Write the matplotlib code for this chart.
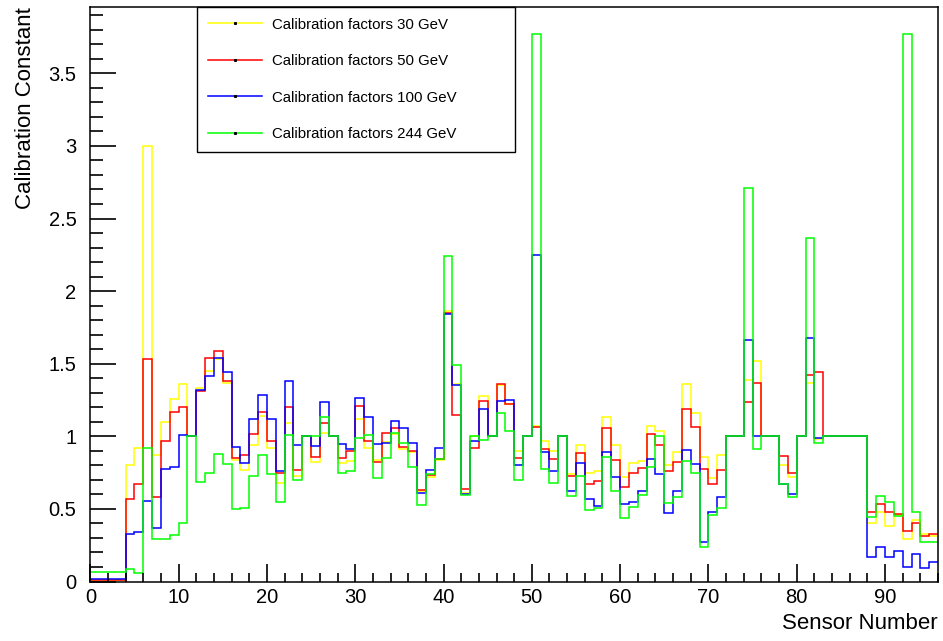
import matplotlib
matplotlib.use('Agg')
import matplotlib.pyplot as plt
from matplotlib.lines import Line2D
from matplotlib.ticker import MultipleLocator
import numpy as np

plt.rcParams['font.family'] = ['Liberation Sans', 'DejaVu Sans']

# bin edges: sensors 0..95, one bin each
edges = np.arange(0, 97)

labels = ['Calibration factors 30 GeV', 'Calibration factors 50 GeV',
          'Calibration factors 100 GeV', 'Calibration factors 244 GeV']
colors = ['#ffff00', '#ff0000', '#0000ff', '#00ff00']

cal_30 = [0.01, 0.01, 0.01, 0.01, 0.80, 0.92, 3.00, 0.87, 1.10, 1.26,
          1.36, 1.00, 1.33, 1.45, 1.53, 1.37, 0.84, 0.77, 0.94, 1.14,
          0.92, 0.68, 1.09, 0.73, 1.00, 0.82, 1.02, 1.00, 0.815, 0.83,
          1.12, 0.92, 0.84, 0.96, 1.015, 0.91, 0.895, 0.62, 0.72, 0.84,
          1.865, 1.36, 0.61, 1.00, 1.28, 1.00, 1.355, 1.22, 0.90, 1.00,
          1.07, 0.965, 0.90, 1.00, 0.74, 0.94, 0.75, 0.76, 1.13, 0.94,
          0.72, 0.815, 0.83, 1.07, 1.04, 0.80, 0.895, 1.36, 1.16, 0.86,
          0.71, 0.87, 1.00, 1.00, 1.39, 1.52, 1.00, 1.00, 0.80, 0.72,
          1.00, 1.37, 0.98, 1.00, 1.00, 1.00, 1.00, 1.00, 0.40, 0.48,
          0.385, 0.46, 0.295, 0.425, 0.325, 0.315]

cal_50 = [0.01, 0.01, 0.01, 0.01, 0.567, 0.67, 1.53, 0.58, 0.97, 1.17,
          1.20, 1.00, 1.31, 1.54, 1.585, 1.38, 0.85, 0.87, 1.015, 1.17,
          0.97, 0.75, 1.20, 0.77, 1.00, 0.86, 1.095, 1.00, 0.85, 0.90,
          1.21, 0.97, 0.825, 1.025, 1.055, 0.925, 0.90, 0.63, 0.735, 0.845,
          1.85, 1.15, 0.64, 0.92, 1.24, 1.00, 1.36, 1.22, 0.85, 1.00,
          1.065, 0.915, 0.845, 1.00, 0.725, 0.885, 0.675, 0.695, 1.055, 0.84,
          0.65, 0.75, 0.78, 1.015, 0.94, 0.76, 0.82, 1.19, 1.065, 0.775,
          0.67, 0.765, 1.00, 1.00, 1.235, 1.37, 1.00, 1.00, 0.865, 0.745,
          1.00, 1.42, 1.44, 1.00, 1.00, 1.00, 1.00, 1.00, 0.48, 0.535,
          0.48, 0.465, 0.35, 0.40, 0.315, 0.325]

cal_100 = [0.015, 0.015, 0.015, 0.015, 0.33, 0.34, 0.555, 0.37, 0.775, 0.79,
           1.01, 1.00, 1.32, 1.415, 1.54, 1.44, 0.925, 0.815, 1.12, 1.285,
           1.12, 0.76, 1.38, 0.94, 1.00, 0.935, 1.235, 1.00, 0.945, 0.91,
           1.265, 1.13, 0.945, 0.955, 1.105, 1.055, 0.955, 0.61, 0.77, 0.92,
           1.84, 1.355, 0.605, 0.965, 1.19, 1.00, 1.24, 1.25, 0.80, 1.00,
           2.25, 0.895, 0.76, 1.00, 0.625, 0.815, 0.57, 0.52, 0.89, 0.72,
           0.535, 0.55, 0.625, 0.845, 0.74, 0.475, 0.625, 0.905, 0.81, 0.275,
           0.48, 0.585, 1.00, 1.00, 1.665, 1.00, 1.00, 1.00, 0.67, 0.605,
           1.00, 1.675, 0.99, 1.00, 1.00, 1.00, 1.00, 1.00, 0.17, 0.24,
           0.17, 0.21, 0.10, 0.19, 0.09, 0.135]

cal_244 = [0.063, 0.063, 0.068, 0.066, 0.085, 0.062, 0.92, 0.29, 0.295, 0.32,
           0.40, 1.00, 0.685, 0.745, 0.875, 0.81, 0.50, 0.505, 0.725, 0.87,
           0.74, 0.55, 1.01, 0.70, 1.00, 1.00, 1.13, 1.00, 0.745, 0.76,
           0.985, 1.01, 0.71, 0.85, 1.025, 0.955, 0.79, 0.53, 0.74, 0.845,
           2.24, 1.49, 0.595, 1.00, 0.975, 1.00, 1.16, 1.04, 0.70, 1.00,
           3.77, 0.775, 0.68, 1.00, 0.59, 0.73, 0.495, 0.505, 0.86, 0.625,
           0.435, 0.515, 0.595, 0.79, 1.00, 0.54, 0.58, 0.83, 0.745, 0.24,
           0.46, 0.505, 1.00, 1.00, 2.71, 0.91, 1.00, 1.00, 0.67, 0.585,
           1.00, 2.365, 0.955, 1.00, 1.00, 1.00, 1.00, 1.00, 0.445, 0.59,
           0.55, 0.45, 3.77, 0.48, 0.27, 0.27]

series = [cal_30, cal_50, cal_100, cal_244]


def plot_calibration():
    fig = plt.figure(figsize=(9.43, 6.41), dpi=100)
    ax = fig.add_axes([0.0958, 0.0928, 0.8989, 0.8967])

    for vals, col in zip(series, colors):
        ax.stairs(vals, edges, color=col, linewidth=1.1, baseline=None)

    ymax = max(max(s) for s in series) * 1.05
    ax.set_xlim(0, 96)
    ax.set_ylim(0, ymax)

    ax.xaxis.set_major_locator(MultipleLocator(10))
    ax.xaxis.set_minor_locator(MultipleLocator(2))
    ax.yaxis.set_major_locator(MultipleLocator(0.5))
    ax.yaxis.set_minor_locator(MultipleLocator(0.1))
    ax.tick_params(which='both', direction='in', width=1.2, labelsize=14.5)
    ax.tick_params(axis='x', which='major', length=13, pad=5)
    ax.tick_params(axis='x', which='minor', length=6.5)
    ax.tick_params(axis='y', which='major', length=19, pad=10)
    ax.tick_params(axis='y', which='minor', length=9.5)
    ax.yaxis.set_major_formatter(plt.FuncFormatter(lambda v, p: f'{v:g}'))
    for sp in ax.spines.values():
        sp.set_linewidth(1.1)

    ax.set_xlabel('Sensor Number', fontsize=16, loc='right', labelpad=4)
    ax.set_ylabel('Calibration Constant', fontsize=16, loc='top', labelpad=9)

    handles = [Line2D([0], [0], color=c, linewidth=1.1, marker='s', markersize=1.2,
                      markerfacecolor='black', markeredgecolor='black') for c in colors]
    leg = ax.legend(handles, labels, loc='upper left',
                    bbox_to_anchor=(0.1262, 0.7507, 0.3745, 0.2493), mode='expand',
                    borderaxespad=0, fontsize=10.8, fancybox=False, framealpha=1,
                    edgecolor='black', handlelength=3.6, handletextpad=0.65,
                    labelspacing=1.5, borderpad=0.72)
    leg.get_frame().set_linewidth(1.0)

    fig.savefig('out.png', dpi=100)


if __name__ == '__main__':
    plot_calibration()
